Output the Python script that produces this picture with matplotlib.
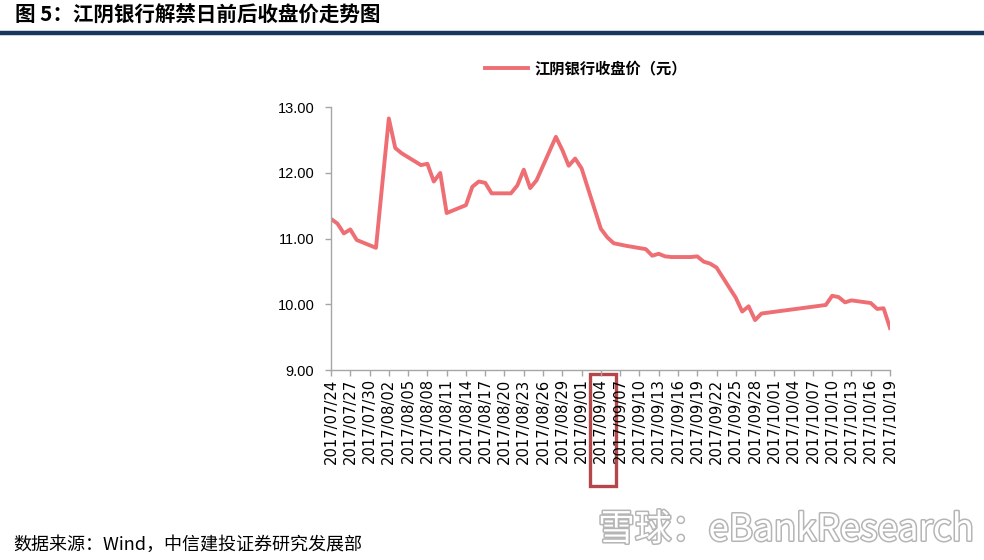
import matplotlib
matplotlib.use("Agg")
import matplotlib.pyplot as plt
import matplotlib.dates as mdates
import matplotlib.patheffects as pe
from matplotlib.patches import Rectangle
from matplotlib.lines import Line2D
import matplotlib.transforms as mtransforms
import pandas as pd

plt.rcParams['font.family'] = ['Noto Sans CJK SC', 'DejaVu Sans']

title = "图 5：江阴银行解禁日前后收盘价走势图"
series_name = "江阴银行收盘价（元）"
source = "数据来源：Wind，中信建投证券研究发展部"

dates = ['2017-07-24', '2017-07-25', '2017-07-26', '2017-07-27', '2017-07-28',
         '2017-07-31', '2017-08-01', '2017-08-02', '2017-08-03', '2017-08-04',
         '2017-08-07', '2017-08-08', '2017-08-09', '2017-08-10', '2017-08-11',
         '2017-08-14', '2017-08-15', '2017-08-16', '2017-08-17', '2017-08-18',
         '2017-08-21', '2017-08-22', '2017-08-23', '2017-08-24', '2017-08-25',
         '2017-08-28', '2017-08-29', '2017-08-30', '2017-08-31', '2017-09-01',
         '2017-09-04', '2017-09-05', '2017-09-06', '2017-09-07', '2017-09-08',
         '2017-09-11', '2017-09-12', '2017-09-13', '2017-09-14', '2017-09-15',
         '2017-09-18', '2017-09-19', '2017-09-20', '2017-09-21', '2017-09-22',
         '2017-09-25', '2017-09-26', '2017-09-27', '2017-09-28', '2017-09-29',
         '2017-10-09', '2017-10-10', '2017-10-11', '2017-10-12', '2017-10-13',
         '2017-10-16', '2017-10-17', '2017-10-18', '2017-10-19']
close = [11.30, 11.23, 11.08, 11.14, 10.98,
         10.86, 11.85, 12.83, 12.38, 12.30,
         12.12, 12.14, 11.87, 12.00, 11.39,
         11.51, 11.79, 11.87, 11.85, 11.69,
         11.69, 11.81, 12.05, 11.77, 11.89,
         12.55, 12.35, 12.11, 12.22, 12.07,
         11.15, 11.02, 10.93, 10.91, 10.89,
         10.84, 10.74, 10.77, 10.73, 10.72,
         10.72, 10.73, 10.65, 10.62, 10.56,
         10.10, 9.89, 9.97, 9.76, 9.86,
         9.99, 10.13, 10.11, 10.03, 10.06,
         10.02, 9.93, 9.94, 9.64]

tick_dates = pd.date_range('2017-07-24', '2017-10-19', freq='3D')
lift_date = pd.Timestamp('2017-09-04')

x = pd.to_datetime(dates)

fig = plt.figure(figsize=(9.84, 5.6), dpi=100)
ax = fig.add_axes([331 / 984, 1 - 370 / 560, (890 - 331) / 984, (370 - 107.3) / 560])

line, = ax.plot(x, close, color='#EE6E73', linewidth=2.8, label=series_name)

ax.set_ylim(9, 13)
ax.set_yticks([9, 10, 11, 12, 13])
ax.set_yticklabels([f"{v:.2f}" for v in [9, 10, 11, 12, 13]],
                   family=['Liberation Sans', 'DejaVu Sans'], fontsize=10.5)
ax.set_xlim(tick_dates[0], tick_dates[-1])
ax.set_xticks(tick_dates)
ax.set_xticklabels([d.strftime('%Y/%m/%d') for d in tick_dates], rotation=90,
                   family=['DejaVu Sans'], fontsize=10.6)

for s in ['top', 'right']:
    ax.spines[s].set_visible(False)
for s in ['left', 'bottom']:
    ax.spines[s].set_color('#A6A6A6')
    ax.spines[s].set_linewidth(1)
ax.tick_params(axis='both', colors='#A6A6A6', labelcolor='black', length=4, width=1)
ax.tick_params(axis='y', pad=8)
ax.tick_params(axis='x', pad=2)

# red box around the lift date label
trans = mtransforms.blended_transform_factory(ax.transData, ax.transAxes)
x0 = mdates.date2num(lift_date)
box = Rectangle((x0 - 1.7, -0.443), 4.0, 0.428, transform=trans, fill=False,
                edgecolor='#B5474A', linewidth=2.4, clip_on=False)
ax.add_patch(box)

fig.legend(handles=[line], loc='center', bbox_to_anchor=(586 / 984, 1 - 68 / 560),
           frameon=False, handlelength=2.8, handletextpad=0.4,
           prop={'family': ['Noto Sans CJK SC'], 'weight': 'bold', 'size': 11})

fig.text(15 / 984, 1 - 15 / 560, title, fontsize=14.8, fontweight='bold',
         va='center', ha='left', color='black')
fig.add_artist(Line2D([0, 1], [1 - 33 / 560, 1 - 33 / 560], color='#17375E',
                      linewidth=3.2, transform=fig.transFigure))

fig.text(13 / 984, 1 - 545 / 560, source, fontsize=13, va='center', ha='left',
         color='black', style='italic')

fig.text(598 / 984, 1 - 530 / 560, "雪球：eBankResearch", fontsize=26.5, va='center',
         ha='left', color='white',
         path_effects=[pe.withStroke(linewidth=2.2, foreground='#B5B5B5')])

fig.savefig('out.png', dpi=100)
